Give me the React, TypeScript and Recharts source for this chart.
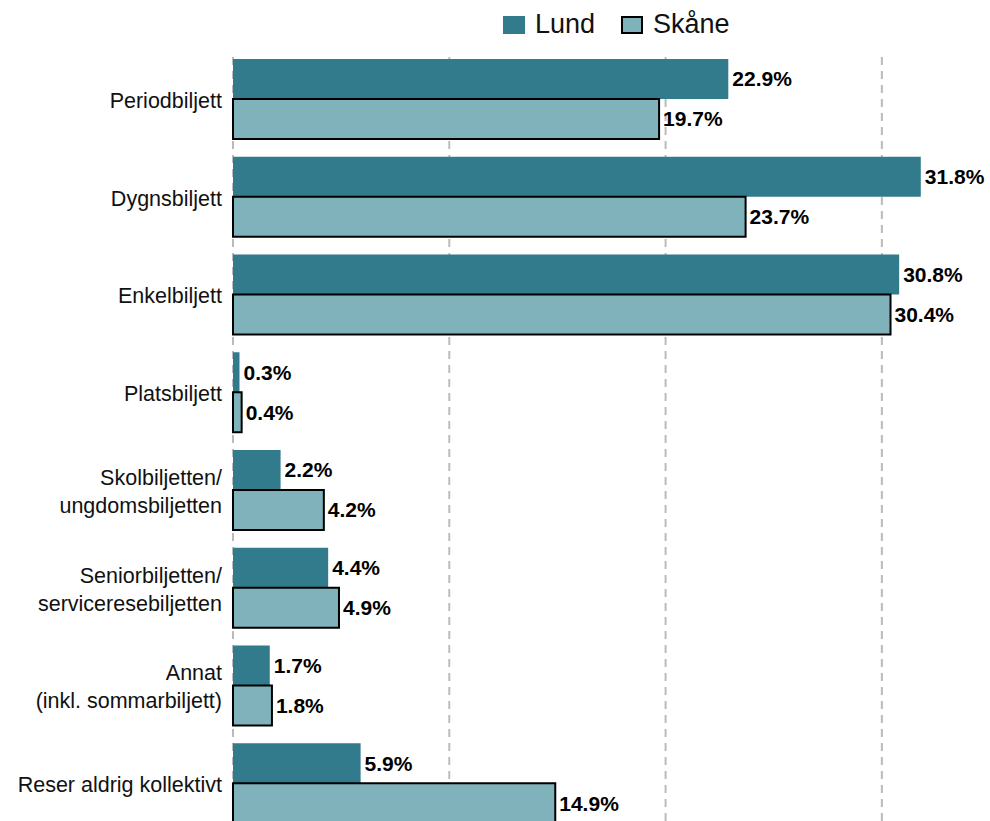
import { BarChart, Bar, XAxis, YAxis, CartesianGrid, LabelList } from "recharts";

// ── Data ──────────────────────────────────────────────────────────────────────

const categories = [
  "Periodbiljett",
  "Dygnsbiljett",
  "Enkelbiljett",
  "Platsbiljett",
  "Skolbiljetten/\nungdomsbiljetten",
  "Seniorbiljetten/\nserviceresebiljetten",
  "Annat\n(inkl. sommarbiljett)",
  "Reser aldrig kollektivt",
];
const lund = [22.9, 31.8, 30.8, 0.3, 2.2, 4.4, 1.7, 5.9];
const skane = [19.7, 23.7, 30.4, 0.4, 4.2, 4.9, 1.8, 14.9];
const xTicks = [0, 10, 20, 30];

const data = categories.map((name, i) => ({ name, lund: lund[i], skane: skane[i] }));

// ── Styles ────────────────────────────────────────────────────────────────────

const FONT = "'Liberation Sans', Arial, sans-serif";
const LUND = "#317b8c";
const SKANE = "#7fb2ba";

const fmtPct = (v: number) => `${v.toFixed(1)}%`;

function CategoryTick({ x, y, payload }: { x?: number; y?: number; payload?: { value: string } }) {
  const lines = (payload?.value ?? "").split("\n");
  const lh = 28;
  const y0 = -((lines.length - 1) * lh) / 2;
  const tx = (x ?? 0) - 3;
  return (
    <text x={tx} y={y} textAnchor="end" fontSize={21.5} fill="#111" fontFamily={FONT}>
      {lines.map((l, i) => (
        <tspan key={i} x={tx} dy={i === 0 ? y0 + 9 : lh}>{l}</tspan>
      ))}
    </text>
  );
}

function LegendBox({ color, border }: { color: string; border?: boolean }) {
  return (
    <span
      style={{
        display: "inline-block",
        width: 22,
        height: 18,
        boxSizing: "border-box",
        background: color,
        border: border ? "2px solid #000" : "none",
        marginRight: 10,
      }}
    />
  );
}

const NoTick = () => <g />;

export default function App() {
  return (
    <div style={{ position: "fixed", top: 0, left: 0, width: 990, height: 821, overflow: "hidden", background: "#fff", fontFamily: FONT }}>
      <div style={{ position: "absolute", top: 9, left: 503, display: "flex", alignItems: "center", fontSize: 27, color: "#111", zIndex: 2 }}>
        <LegendBox color={LUND} />
        <span style={{ marginRight: 26 }}>Lund</span>
        <LegendBox color={SKANE} border />
        <span>Skåne</span>
      </div>
      <BarChart
        width={990}
        height={832}
        data={data}
        layout="vertical"
        margin={{ top: 50, right: 0, left: 0, bottom: 0 }}
        barGap={0}
      >
        <CartesianGrid
          horizontal={false}
          stroke="#bbb"
          strokeWidth={2}
          strokeDasharray="8 6"
          syncWithTicks
          y={57}
          height={775}
        />
        <XAxis
          type="number"
          domain={[0, 35]}
          ticks={xTicks}
          axisLine={false}
          tickLine={false}
          tick={<NoTick />}
          height={0}
        />
        <YAxis
          type="category"
          dataKey="name"
          width={233}
          axisLine={false}
          tickLine={false}
          tick={<CategoryTick />}
          interval={0}
        />
        <Bar dataKey="lund" fill={LUND} barSize={40} isAnimationActive={false}>
          <LabelList dataKey="lund" position="right" offset={4} formatter={(v: any) => fmtPct(Number(v))}
            fill="#000" fontSize={21} fontWeight="bold" fontFamily={FONT} />
        </Bar>
        <Bar dataKey="skane" fill={SKANE} stroke="#000" strokeWidth={2} barSize={40} isAnimationActive={false}>
          <LabelList dataKey="skane" position="right" offset={4} formatter={(v: any) => fmtPct(Number(v))}
            fill="#000" fontSize={21} fontWeight="bold" fontFamily={FONT} />
        </Bar>
      </BarChart>
    </div>
  );
}
